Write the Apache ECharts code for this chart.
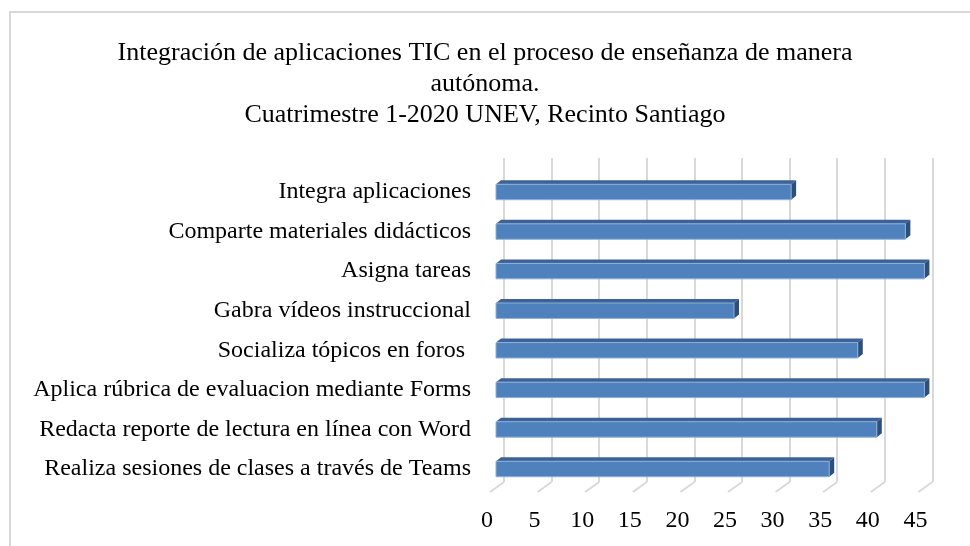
<!DOCTYPE html>
<html>
<head>
<meta charset="utf-8">
<script src="https://cdn.jsdelivr.net/npm/echarts@6/dist/echarts.min.js"></script>
<style>
  html, body { margin: 0; padding: 0; background: #fff; }
  #chart { width: 970px; height: 546px; }
</style>
</head>
<body>
<div id="chart"></div>
<script>
// datos del grafico (de arriba hacia abajo)
var categorias = [
    'Integra aplicaciones',
    'Comparte materiales didácticos',
    'Asigna tareas',
    'Gabra vídeos instruccional',
    'Socializa tópicos en foros ',
    'Aplica rúbrica de evaluacion mediante Forms',
    'Redacta reporte de lectura en línea con Word',
    'Realiza sesiones de clases a través de Teams'
];
var valores = [31, 43, 45, 25, 38, 45, 40, 35];
var marcas = [0, 5, 10, 15, 20, 25, 30, 35, 40, 45];

var titulo = 'Integración de aplicaciones TIC en el proceso de enseñanza de manera\nautónoma.\nCuatrimestre 1-2020 UNEV, Recinto Santiago';
var fuente = '"Liberation Serif", "Times New Roman", serif';

var myChart = echarts.init(document.getElementById('chart'));

// barra con efecto 3D (cara frontal, superior y lateral)
function barra3d(params, api) {
    var cat = api.value(0);
    var val = api.value(1);
    var p0 = api.coord([0, cat]);
    var p1 = api.coord([val, cat]);
    var h = api.size([0, 1])[1] * 0.39;
    var dx = 5, dy = 4;
    var x0 = p0[0], x1 = p1[0];
    var y = p1[1] - h / 2;
    return {
        type: 'group',
        children: [
            {
                type: 'polygon',
                shape: { points: [[x0, y], [x0 + dx, y - dy], [x1 + dx, y - dy], [x1, y]] },
                style: { fill: '#3B6397' }
            },
            {
                type: 'polygon',
                shape: { points: [[x1, y], [x1 + dx, y - dy], [x1 + dx, y + h - dy], [x1, y + h]] },
                style: { fill: '#2E4F7A' }
            },
            {
                type: 'rect',
                shape: { x: x0, y: y, width: x1 - x0, height: h },
                style: { fill: '#4F81BD', stroke: '#8FAFD8', lineWidth: 1 }
            }
        ]
    };
}

// lineas del piso (perspectiva)
function piso(params, api) {
    var p = api.coord([api.value(0), 0]);
    return {
        type: 'line',
        shape: { x1: p[0], y1: p[1], x2: p[0] - 14, y2: p[1] + 10 },
        style: { stroke: '#d9d9d9', lineWidth: 2 }
    };
}

var option = {
    animation: false,
    backgroundColor: '#fff',
    textStyle: { fontFamily: fuente },
    title: {
        text: titulo,
        left: 'center',
        top: 33,
        textStyle: {
            fontFamily: fuente,
            fontSize: 26,
            fontWeight: 'normal',
            color: '#000',
            lineHeight: 31,
            align: 'center'
        }
    },
    graphic: [
        {
            type: 'rect',
            shape: { x: 10, y: 12, width: 975, height: 560 },
            style: { fill: 'none', stroke: '#d9d9d9', lineWidth: 2 },
            z: -10
        }
    ],
    grid: [
        { left: 504, top: 158, width: 428.4, height: 324 },
        { left: 496, top: 172.2, width: 428.4, height: 316.6 },
        { left: 487, top: 158, width: 428.4, height: 332 }
    ],
    xAxis: [
        {
            gridIndex: 0, type: 'value', min: 0, max: 45, interval: 5,
            axisLine: { show: false }, axisTick: { show: false }, axisLabel: { show: false },
            splitLine: { show: true, lineStyle: { color: '#d9d9d9', width: 2 } }
        },
        {
            gridIndex: 1, type: 'value', min: 0, max: 45, interval: 5,
            axisLine: { show: false }, axisTick: { show: false }, axisLabel: { show: false },
            splitLine: { show: false }
        },
        {
            gridIndex: 2, type: 'value', min: 0, max: 45, interval: 5,
            axisLine: { show: false }, axisTick: { show: false },
            splitLine: { show: false },
            axisLabel: { margin: 19, fontSize: 24, color: '#000', fontFamily: fuente }
        }
    ],
    yAxis: [
        { gridIndex: 0, type: 'value', min: 0, max: 1, show: false },
        {
            gridIndex: 1, type: 'category', data: categorias, inverse: true,
            axisLine: { show: false }, axisTick: { show: false },
            axisLabel: { margin: 25, fontSize: 24, color: '#000', fontFamily: fuente }
        },
        { gridIndex: 2, type: 'value', min: 0, max: 1, show: false }
    ],
    series: [
        {
            type: 'custom',
            xAxisIndex: 0,
            yAxisIndex: 0,
            renderItem: piso,
            data: marcas.map(function (m) { return [m]; }),
            z: 1
        },
        {
            type: 'custom',
            xAxisIndex: 1,
            yAxisIndex: 1,
            renderItem: barra3d,
            encode: { x: 1, y: 0 },
            data: valores.map(function (v, i) { return [i, v]; }),
            z: 5
        }
    ]
};

myChart.setOption(option);
</script>
</body>
</html>
